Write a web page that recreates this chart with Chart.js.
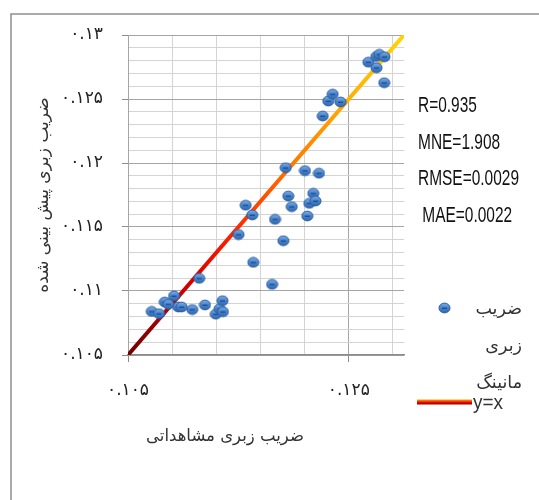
<!DOCTYPE html>
<html>
<head>
<meta charset="utf-8">
<script src="https://cdn.jsdelivr.net/npm/chart.js@4"></script>
<style>
  html, body { margin: 0; padding: 0; background: #fff; }
  #wrap { position: relative; width: 539px; height: 500px; }
</style>
</head>
<body>
<div id="wrap"><canvas id="scatterChart" width="539" height="500"></canvas></div>
<script>
// observed vs predicted roughness
const observed = [0.10715, 0.10781, 0.10833, 0.10865, 0.10917, 0.10956, 0.10986, 0.11082, 0.11145, 0.11197,
  0.11295, 0.11329, 0.11356, 0.11360, 0.11501, 0.11566, 0.11626, 0.11635, 0.11805, 0.11832,
  0.11907, 0.11928, 0.11952, 0.11983, 0.12103, 0.12124, 0.12142, 0.12178, 0.12198, 0.12230,
  0.12264, 0.12314, 0.12354, 0.12425, 0.12677, 0.12749, 0.12776, 0.12823, 0.12751, 0.12821];
const predicted = [0.10840, 0.10823, 0.10914, 0.10896, 0.10961, 0.10875, 0.10875, 0.10855, 0.11099, 0.10891,
  0.10819, 0.10861, 0.10924, 0.10838, 0.11441, 0.11670, 0.11594, 0.11224, 0.11052, 0.11560,
  0.11393, 0.11963, 0.11742, 0.11659, 0.11940, 0.11586, 0.11685, 0.11763, 0.11703, 0.11920,
  0.12367, 0.12484, 0.12538, 0.12477, 0.12788, 0.12832, 0.12849, 0.12830, 0.12744, 0.12627];
const lineX = [0.105, 0.13];
const lineY = [0.105, 0.13];

const xMajor = [0.105, 0.125];
const xMajorLabels = ['۰.۱۰۵', '۰.۱۲۵'];
const yMajor = [0.105, 0.11, 0.115, 0.12, 0.125, 0.13];
const yMajorLabels = ['۰.۱۰۵', '۰.۱۱', '۰.۱۱۵', '۰.۱۲', '۰.۱۲۵', '۰.۱۳'];

const seriesLabels = ['ضریب زبری مانینگ', 'y=x'];
const xTitle = 'ضریب زبری مشاهداتی';
const yTitle = 'ضریب زبری پیش بینی شده';
const stats = ['R=0.935', 'MNE=1.908', 'RMSE=0.0029', ' MAE=0.0022'];

const faFont = "'DejaVu Sans', sans-serif";
const r6 = v => Math.round(v * 1e6) / 1e6;
const isMajor = (list, v) => list.some(m => Math.abs(m - v) < 1e-7);

function stepTicks(min, max, step) {
  const out = [];
  for (let i = 0; r6(min + i * step) <= max + 1e-9; i++) out.push({ value: r6(min + i * step) });
  return out;
}

function makeDot() {
  const c = document.createElement('canvas');
  c.width = 13; c.height = 12;
  const g = c.getContext('2d');
  const grad = g.createLinearGradient(0, 0, 0, 12);
  grad.addColorStop(0, '#8cb8ec');
  grad.addColorStop(0.45, '#4a86d0');
  grad.addColorStop(1, '#2c62a8');
  g.beginPath();
  g.ellipse(6.5, 6, 5.5, 4.9, 0, 0, Math.PI * 2);
  g.fillStyle = grad;
  g.fill();
  g.strokeStyle = '#2d5e9e';
  g.lineWidth = 1;
  g.stroke();
  g.fillStyle = '#1d4c8c';
  g.fillRect(4, 5.6, 5, 1.3);
  return c;
}
const dot = makeDot();

function lineGradient(ctx, area) {
  const g = ctx.createLinearGradient(area.left, area.bottom, area.right, area.top);
  g.addColorStop(0, '#6e0000');
  g.addColorStop(0.25, '#e00000');
  g.addColorStop(0.4, '#ff2a00');
  g.addColorStop(0.6, '#ff7a00');
  g.addColorStop(0.8, '#ffb000');
  g.addColorStop(1, '#ffd400');
  return g;
}

const extras = {
  id: 'extras',
  beforeDraw(chart) {
    const c = chart.ctx;
    c.save();
    c.strokeStyle = '#8e8e8e';
    c.lineWidth = 1.5;
    c.beginPath();
    c.moveTo(11, 500);
    c.lineTo(11, 14);
    c.lineTo(539, 14);
    c.stroke();
    c.restore();
  },
  afterDraw(chart) {
    const c = chart.ctx;
    c.save();
    // x axis title
    c.fillStyle = '#333';
    c.font = '16.5px ' + faFont;
    c.textAlign = 'center';
    c.textBaseline = 'middle';
    c.fillText(xTitle, 225, 437);

    // stats, condensed like the original narrow font
    c.fillStyle = '#111';
    c.font = "22px 'Liberation Sans', sans-serif";
    c.textAlign = 'left';
    const sx = 101 / c.measureText(stats[2]).width;
    stats.forEach((s, i) => {
      c.save();
      c.translate(418, 106 + i * 36.5);
      c.scale(sx, 1);
      c.fillText(s, 0, 0);
      c.restore();
    });

    // legend
    c.drawImage(dot, 438, 302);
    c.fillStyle = '#333';
    c.font = '17.5px ' + faFont;
    c.textAlign = 'right';
    seriesLabels[0].split(' ').forEach((w, i) => c.fillText(w, 522, 309 + i * 37));
    const lg = c.createLinearGradient(0, 399, 0, 405);
    lg.addColorStop(0, '#ffc000');
    lg.addColorStop(0.35, '#ff5000');
    lg.addColorStop(0.6, '#e00000');
    lg.addColorStop(1, '#800000');
    c.fillStyle = lg;
    c.fillRect(417, 399.5, 55, 5);
    c.fillStyle = '#333';
    c.font = "21px 'Liberation Sans', sans-serif";
    c.textAlign = 'left';
    c.save();
    c.translate(473, 403);
    c.scale(0.9, 1);
    c.fillText(seriesLabels[1], 0, 0);
    c.restore();
    c.restore();
  }
};

const ctx = document.getElementById('scatterChart').getContext('2d');

new Chart(ctx, {
  type: 'scatter',
  data: {
    datasets: [{
      label: seriesLabels[0],
      data: observed.map((x, i) => ({ x: x, y: predicted[i] })),
      pointStyle: dot,
      pointRadius: 6,
      order: 0
    }, {
      label: seriesLabels[1],
      data: lineX.map((x, i) => ({ x: x, y: lineY[i] })),
      showLine: true,
      pointRadius: 0,
      borderWidth: 4,
      borderColor: (c) => c.chart.chartArea ? lineGradient(c.chart.ctx, c.chart.chartArea) : '#f00',
      order: 1
    }]
  },
  options: {
    responsive: false,
    animation: false,
    layout: { padding: { top: 35, right: 135, left: 0, bottom: 0 } },
    plugins: { legend: { display: false }, tooltip: { enabled: false } },
    scales: {
      x: {
        type: 'linear',
        min: 0.105,
        max: 0.13,
        afterBuildTicks: (axis) => { axis.ticks = stepTicks(0.105, 0.13, 0.004); },
        afterFit: (axis) => { axis.height = 145; },
        grid: {
          color: (c) => isMajor(xMajor, c.tick.value) ? '#a5a5a5' : '#d4d4d4',
          tickColor: (c) => isMajor(xMajor, c.tick.value) ? '#8c8c8c' : 'rgba(0,0,0,0)',
          tickLength: 7
        },
        border: { color: '#8c8c8c', width: 1.5 },
        ticks: {
          autoSkip: false,
          maxRotation: 0,
          padding: 18,
          color: '#222',
          font: { family: faFont, size: 17 },
          callback: (v) => { const i = xMajor.findIndex(m => Math.abs(m - v) < 1e-7); return i >= 0 ? xMajorLabels[i] : ''; }
        }
      },
      y: {
        type: 'linear',
        min: 0.105,
        max: 0.13,
        afterBuildTicks: (axis) => { axis.ticks = stepTicks(0.105, 0.13, 0.001); },
        afterFit: (axis) => { axis.width = 128; },
        grid: {
          color: (c) => isMajor(yMajor, c.tick.value) ? '#a5a5a5' : '#d4d4d4',
          tickColor: (c) => isMajor(yMajor, c.tick.value) ? '#8c8c8c' : 'rgba(0,0,0,0)',
          tickLength: 6
        },
        border: { color: '#a5a5a5', width: 1 },
        title: {
          display: true,
          text: yTitle,
          color: '#333',
          font: { family: faFont, size: 17 },
          padding: { top: 33, bottom: 0 }
        },
        ticks: {
          autoSkip: false,
          padding: 19,
          color: '#222',
          font: { family: faFont, size: 17 },
          callback: (v) => { const i = yMajor.findIndex(m => Math.abs(m - v) < 1e-7); return i >= 0 ? yMajorLabels[i] : ''; }
        }
      }
    }
  },
  plugins: [extras]
});
</script>
</body>
</html>
